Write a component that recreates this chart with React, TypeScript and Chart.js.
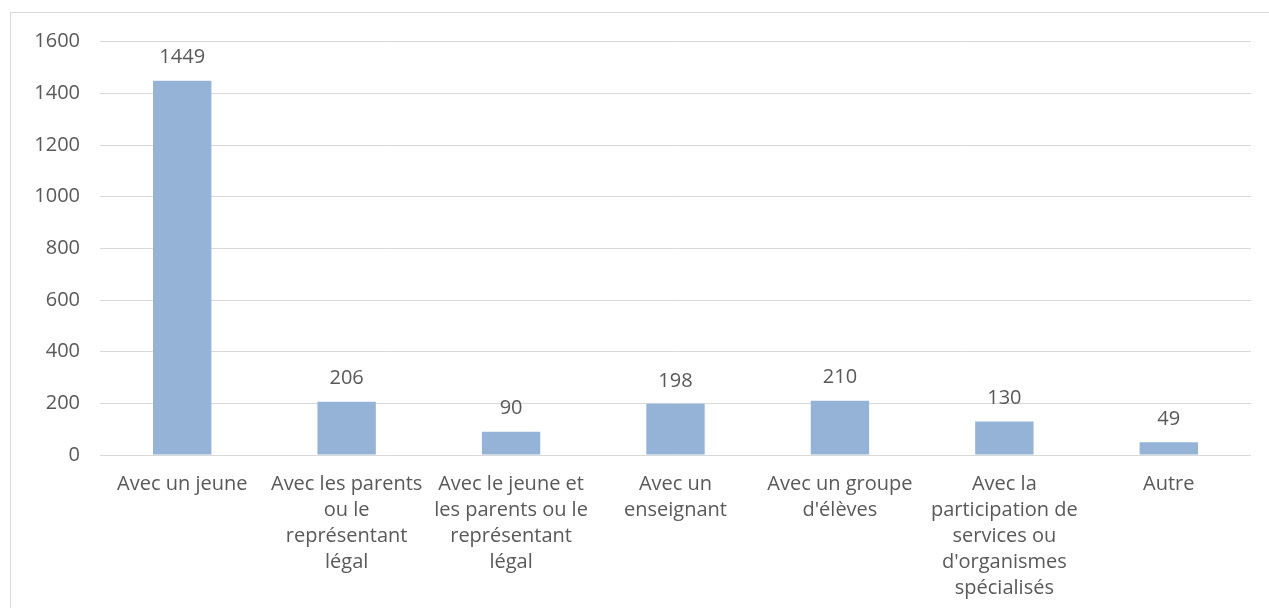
import React, { useEffect, useRef } from "react";
import { Chart, registerables } from "chart.js";

Chart.register(...registerables);

const categories: string[][] = [
  ["Avec un jeune"],
  ["Avec les parents", "ou le", "représentant", "légal"],
  ["Avec le jeune et", "les parents ou le", "représentant", "légal"],
  ["Avec un", "enseignant"],
  ["Avec un groupe", "d'élèves"],
  ["Avec la", "participation de", "services ou", "d'organismes", "spécialisés"],
  ["Autre"],
];
const values: number[] = [1449, 206, 90, 198, 210, 130, 49];
const yTicks: number[] = [0, 200, 400, 600, 800, 1000, 1200, 1400, 1600];

const FONT = "'Open Sans', sans-serif";
const TEXT = "#595959";
const GRID = "#d9d9d9";
const BAR = "#95b3d7";

const dataLabels = {
  id: "dataLabels",
  afterDatasetsDraw(chart: any) {
    const ctx = chart.ctx;
    const meta = chart.getDatasetMeta(0);
    ctx.save();
    ctx.font = `20px ${FONT}`;
    ctx.fillStyle = TEXT;
    ctx.textAlign = "center";
    ctx.textBaseline = "middle";
    meta.data.forEach((bar: any, i: number) => {
      ctx.fillText(String(values[i]), bar.x, bar.y - 23);
    });
    ctx.restore();
  },
};

export default function App() {
  const ref = useRef<HTMLCanvasElement>(null);
  useEffect(() => {
    if (!ref.current) return;
    const chart = new Chart(ref.current, {
      type: "bar",
      data: {
        labels: categories,
        datasets: [
          {
            data: values,
            backgroundColor: BAR,
            borderWidth: 0,
            categoryPercentage: 1,
            barPercentage: 0.355,
          },
        ],
      },
      options: {
        animation: false,
        responsive: false,
        maintainAspectRatio: false,
        layout: { padding: { left: 0, right: 18, top: 41.7, bottom: 0 } },
        plugins: {
          legend: { display: false },
          tooltip: { enabled: false },
        },
        scales: {
          x: {
            grid: { display: false, drawTicks: false },
            border: { display: false },
            ticks: {
              color: TEXT,
              font: { family: FONT, size: 20, lineHeight: "26px" } as any,
              padding: 16,
              maxRotation: 0,
              autoSkip: false,
            },
            afterFit: (scale: any) => {
              scale.height = 153;
            },
          },
          y: {
            min: 0,
            max: 1600,
            afterBuildTicks: (scale: any) => {
              scale.ticks = yTicks.map((v) => ({ value: v }));
            },
            grid: { color: GRID, lineWidth: 1, drawTicks: false },
            border: { display: false },
            ticks: {
              color: TEXT,
              font: { family: FONT, size: 20 },
              padding: 20,
              callback: (v: any) => String(v),
            },
            afterFit: (scale: any) => {
              scale.width = 100;
            },
          },
        },
      },
      plugins: [dataLabels],
    });
    return () => chart.destroy();
  }, []);

  return (
    <div
      style={{
        position: "absolute",
        left: 0,
        top: 0,
        width: 1269,
        height: 608,
        overflow: "hidden",
        background: "#fff",
      }}
    >
      <div
        style={{
          position: "absolute",
          left: 10,
          top: 12,
          width: 1300,
          height: 700,
          border: `1px solid ${GRID}`,
          boxSizing: "border-box",
        }}
      />
      <canvas
        ref={ref}
        width={1269}
        height={608}
        style={{ position: "absolute", left: 0, top: 0, width: 1269, height: 608 }}
      />
    </div>
  );
}
